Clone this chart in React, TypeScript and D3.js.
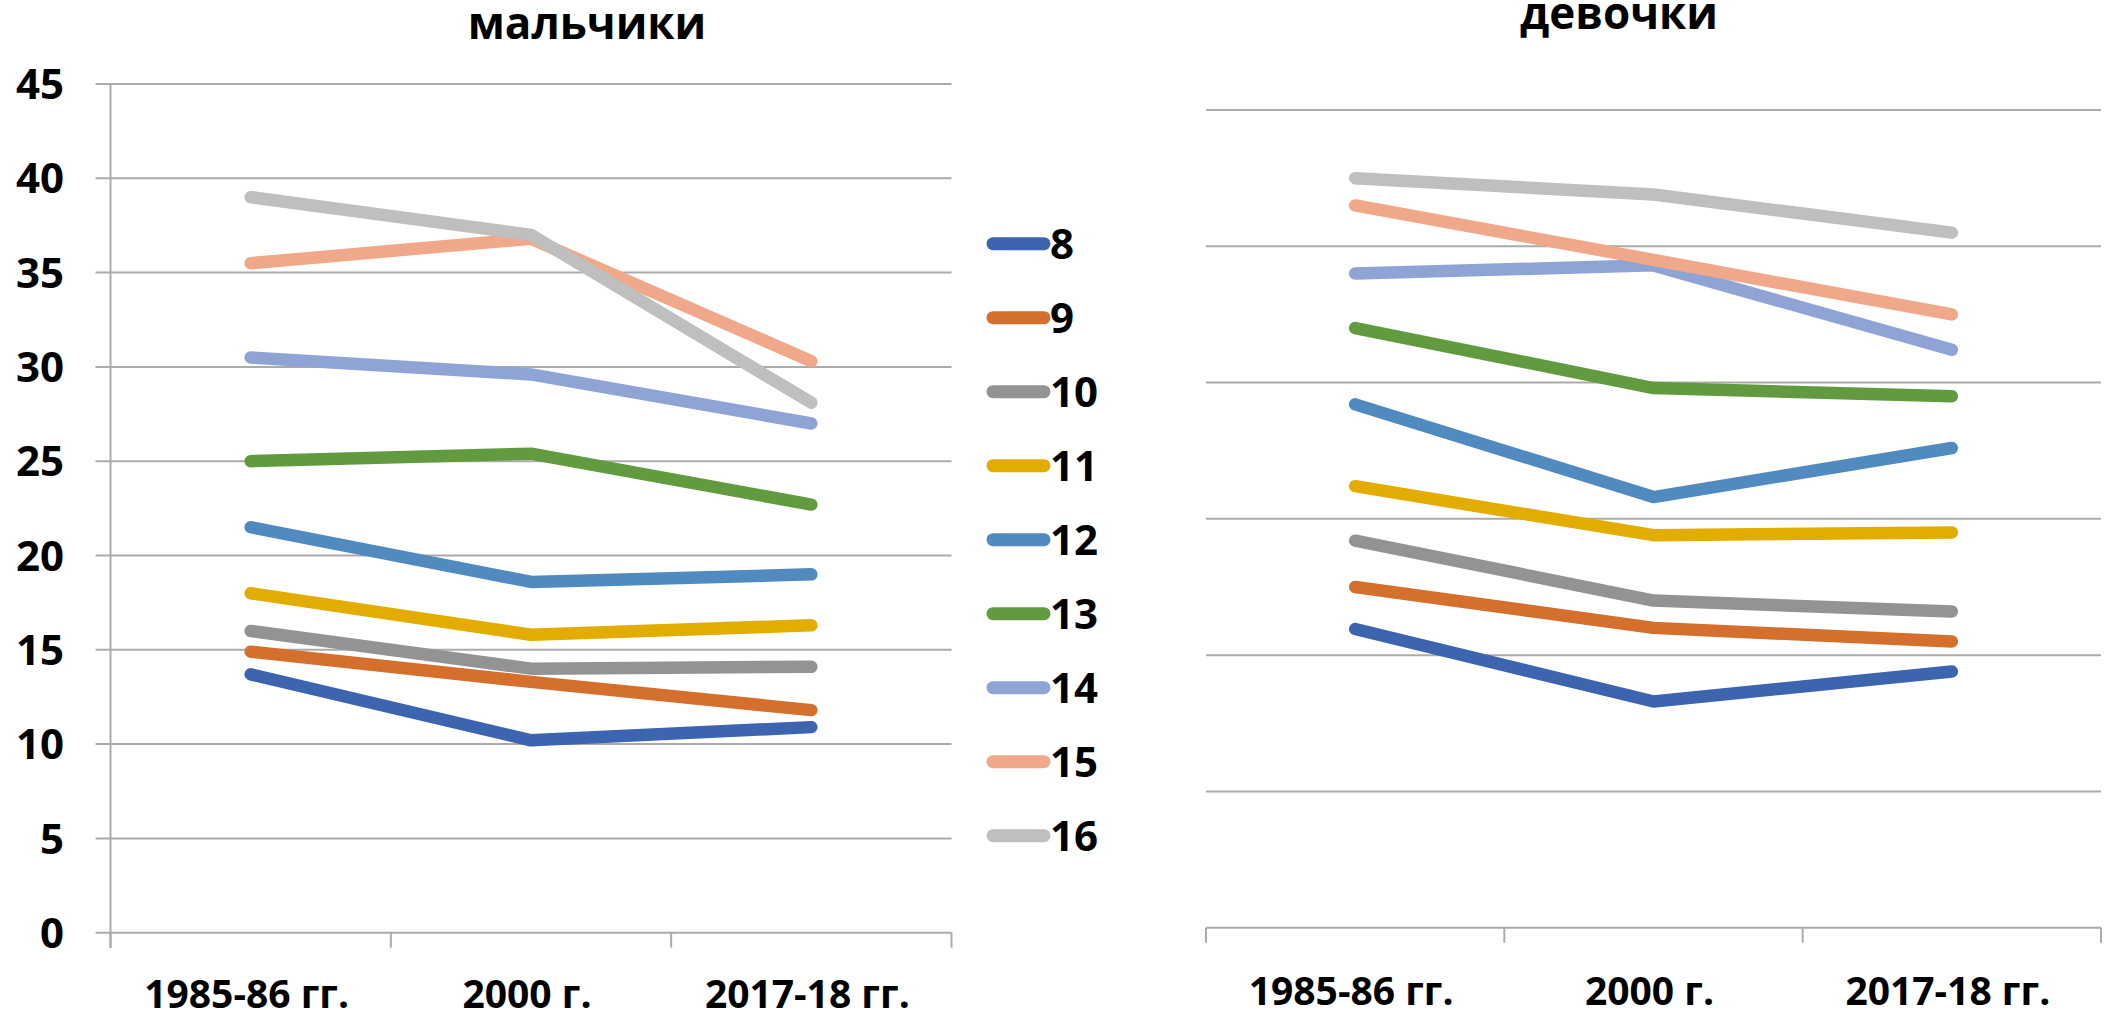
import React from 'react';
import * as d3 from 'd3';

const categories = ['1985-86 гг.', '2000 г.', '2017-18 гг.'];
const ages = ['8', '9', '10', '11', '12', '13', '14', '15', '16'];
const colors = [
  '#3D64AE',
  '#D46F2D',
  '#939393',
  '#E2AC00',
  '#508ABE',
  '#629A3F',
  '#8FA3D4',
  '#F0A88A',
  '#BFBFBF',
];

// мальчики, one row per age
const boys = [
  [13.7, 10.2, 10.9],
  [14.9, 13.3, 11.8],
  [16.0, 14.0, 14.1],
  [18.0, 15.8, 16.3],
  [21.5, 18.6, 19.0],
  [25.0, 25.4, 22.7],
  [30.5, 29.6, 27.0],
  [35.5, 36.8, 30.3],
  [39.0, 37.0, 28.1],
];

// девочки, one row per age
const girls = [
  [10.96, 8.3, 9.4],
  [12.5, 11.0, 10.5],
  [14.2, 12.0, 11.6],
  [16.2, 14.4, 14.5],
  [19.2, 15.8, 17.6],
  [22.0, 19.8, 19.5],
  [24.0, 24.3, 21.2],
  [26.5, 24.5, 22.5],
  [27.5, 26.9, 25.5],
];

const boysTicks = [0, 5, 10, 15, 20, 25, 30, 35, 40, 45];
const girlsTicks = [0, 5, 10, 15, 20, 25, 30];

const FONT = '"Open Sans", "Noto Sans", sans-serif';
const GRID = '#ABABAB';

type PanelProps = {
  title: string;
  titleX: number;
  titleY: number;
  data: number[][];
  ticks: number[];
  x0: number;
  x1: number;
  y0: number;
  y1: number;
  showAxis: boolean;
  labelY: number;
};

const Panel: React.FC<PanelProps> = ({
  title,
  titleX,
  titleY,
  data,
  ticks,
  x0,
  x1,
  y0,
  y1,
  showAxis,
  labelY,
}) => {
  const x = d3.scaleBand<string>().domain(categories).range([x0, x1]).padding(0);
  const y = d3
    .scaleLinear()
    .domain([0, ticks[ticks.length - 1]])
    .range([y0, y1]);
  const bw = x.bandwidth();

  const line = d3
    .line<number>()
    .x((_d, i) => (x(categories[i]) as number) + bw / 2)
    .y(d => y(d));

  const boundaries = categories.map(c => x(c) as number).concat([x1]);
  const gridStart = showAxis ? x0 - 15 : x0;

  return (
    <g>
      <text
        x={titleX}
        y={titleY}
        textAnchor="middle"
        fontFamily={FONT}
        fontWeight={700}
        fontSize={44}
      >
        {title}
      </text>

      {/* gridlines */}
      {ticks.map(t => (
        <line
          key={t}
          x1={gridStart}
          x2={x1}
          y1={y(t)}
          y2={y(t)}
          stroke={GRID}
          strokeWidth={2}
        />
      ))}

      {showAxis && (
        <line x1={x0} x2={x0} y1={y1} y2={y0 + 15} stroke={GRID} strokeWidth={2} />
      )}

      {showAxis &&
        ticks.map(t => (
          <text
            key={'l' + t}
            x={64}
            y={y(t)}
            dy="0.36em"
            textAnchor="end"
            fontFamily={FONT}
            fontWeight={700}
            fontSize={42}
          >
            {t}
          </text>
        ))}

      {/* category ticks */}
      {boundaries.map((b, i) => (
        <line
          key={'b' + i}
          x1={b}
          x2={b}
          y1={y0}
          y2={y0 + 15}
          stroke={GRID}
          strokeWidth={2}
        />
      ))}

      {categories.map(c => (
        <text
          key={c}
          x={(x(c) as number) + bw / 2 - 4}
          y={labelY}
          textAnchor="middle"
          fontFamily={FONT}
          fontWeight={700}
          fontSize={39}
        >
          {c}
        </text>
      ))}

      {data.map((row, i) => (
        <path
          key={ages[i]}
          d={line(row) || ''}
          fill="none"
          stroke={colors[i]}
          strokeWidth={12.5}
          strokeLinecap="round"
          strokeLinejoin="round"
        />
      ))}
    </g>
  );
};

const App: React.FC = () => {
  return (
    <svg
      width={2113}
      height={1017}
      style={{ position: 'absolute', left: 0, top: 0, background: '#fff' }}
    >
      <rect width={2113} height={1017} fill="#fff" />
      <Panel
        title="мальчики"
        titleX={587}
        titleY={39}
        data={boys}
        ticks={boysTicks}
        x0={110.5}
        x1={951.5}
        y0={932.7}
        y1={84}
        showAxis={true}
        labelY={1008}
      />
      <Panel
        title="девочки"
        titleX={1619}
        titleY={29}
        data={girls}
        ticks={girlsTicks}
        x0={1206}
        x1={2101}
        y0={927.7}
        y1={110}
        showAxis={false}
        labelY={1005}
      />

      {/* legend */}
      {ages.map((a, i) => {
        const cy = 243.7 + i * 74;
        return (
          <g key={a}>
            <line
              x1={993}
              x2={1044}
              y1={cy}
              y2={cy}
              stroke={colors[i]}
              strokeWidth={13}
              strokeLinecap="round"
            />
            <text
              x={1050}
              y={cy}
              dy="0.36em"
              fontFamily={FONT}
              fontWeight={700}
              fontSize={42}
            >
              {a}
            </text>
          </g>
        );
      })}
    </svg>
  );
};

export default App;
